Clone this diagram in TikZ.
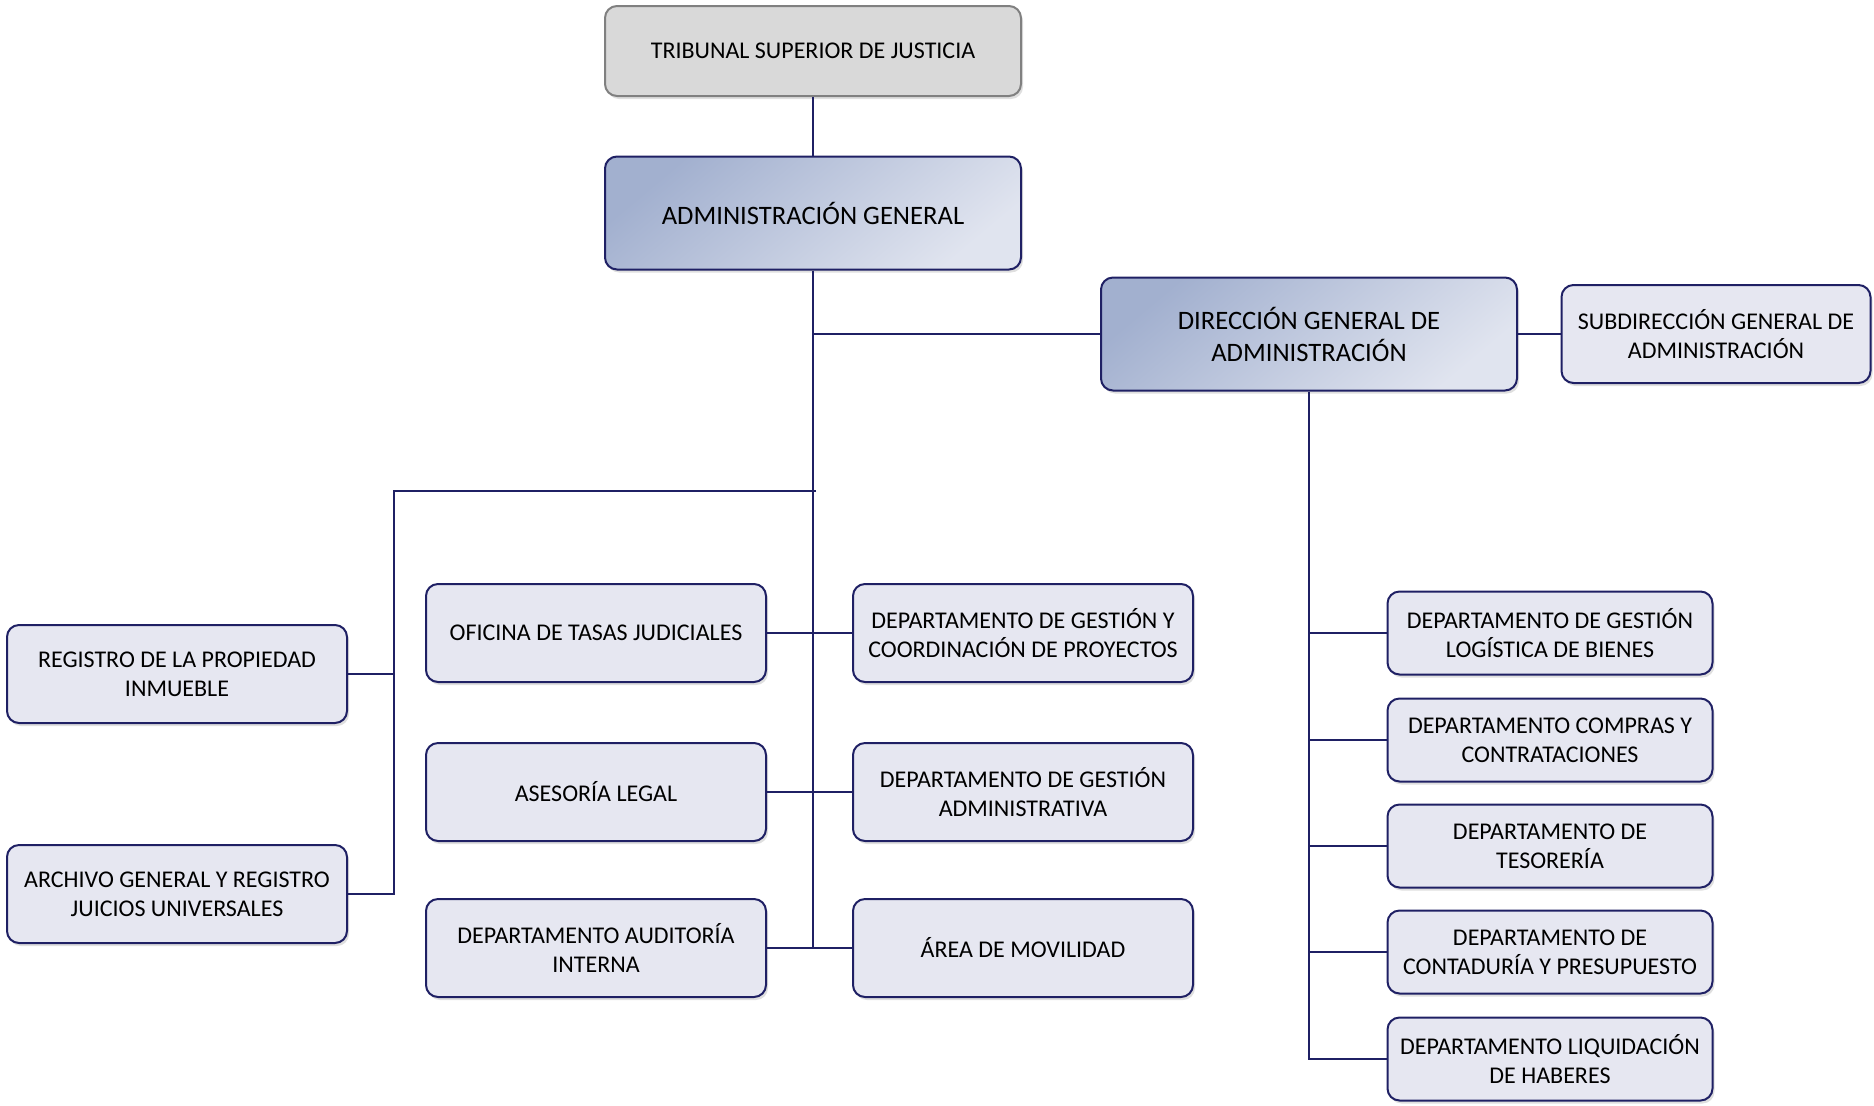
\documentclass[tikz,border=0pt]{standalone}
\usepackage{fontspec}
\setmainfont{Carlito}
\usetikzlibrary{shadows}

\definecolor{navy}{HTML}{1F2064}
\definecolor{unitfill}{HTML}{E6E7F1}
\definecolor{topfill}{HTML}{D9D9D9}
\definecolor{topline}{HTML}{808080}
\definecolor{darkblue}{HTML}{A2B0CF}
\definecolor{lightblue}{HTML}{E0E4EF}

\tikzset{
    unit/.style={rectangle, rounded corners=6pt, draw=navy, line width=1pt,
        fill=unitfill, align=center, inner sep=2pt,
        font=\fontsize{12}{14.5}\selectfont,
        drop shadow={opacity=0.25, shadow xshift=1pt, shadow yshift=-1.5pt}},
    wide/.style={unit, minimum width=170pt, minimum height=49pt},
    dept/.style={unit, minimum width=162.5pt, minimum height=41.5pt},
    head/.style={unit, minimum width=208pt, minimum height=56.5pt,
        font=\fontsize{13.3}{16}\selectfont,
        top color=darkblue, bottom color=lightblue, shading angle=40},
    link/.style={draw=navy, line width=1.4pt}
}

\begin{document}
\begin{tikzpicture}[x=0.5pt, y=-0.5pt]
    \useasboundingbox (0,0) rectangle (1874,1105);
    % Blocks
    \node [unit, draw=topline, fill=topfill, minimum width=208pt, minimum height=45pt] (TSJ) at (813,51) {TRIBUNAL SUPERIOR DE JUSTICIA};
    \node [head] (AG) at (813,213) {ADMINISTRACIÓN GENERAL};
    \node [head] (DGA) at (1309,334) {DIRECCIÓN GENERAL DE\\ADMINISTRACIÓN};
    \node [unit, minimum width=154.5pt, minimum height=49pt] (SGA) at (1716,334) {SUBDIRECCIÓN GENERAL DE\\ADMINISTRACIÓN};

    \node [wide] (RPI) at (177,674) {REGISTRO DE LA PROPIEDAD\\INMUEBLE};
    \node [wide] (AGR) at (177,894) {ARCHIVO GENERAL Y REGISTRO\\JUICIOS UNIVERSALES};

    \node [wide] (OTJ) at (596,633) {OFICINA DE TASAS JUDICIALES};
    \node [wide] (AL) at (596,792) {ASESORÍA LEGAL};
    \node [wide] (DAI) at (596,948) {DEPARTAMENTO AUDITORÍA\\INTERNA};

    \node [wide] (DGP) at (1023,633) {DEPARTAMENTO DE GESTIÓN Y\\COORDINACIÓN DE PROYECTOS};
    \node [wide] (DGAd) at (1023,792) {DEPARTAMENTO DE GESTIÓN\\ADMINISTRATIVA};
    \node [wide] (AM) at (1023,948) {ÁREA DE MOVILIDAD};

    \node [dept] (DLB) at (1550,633) {DEPARTAMENTO DE GESTIÓN\\LOGÍSTICA DE BIENES};
    \node [dept] (DCC) at (1550,740) {DEPARTAMENTO COMPRAS Y\\CONTRATACIONES};
    \node [dept] (DT) at (1550,846) {DEPARTAMENTO DE\\TESORERÍA};
    \node [dept] (DCP) at (1550,952) {DEPARTAMENTO DE\\CONTADURÍA Y PRESUPUESTO};
    \node [dept] (DLH) at (1550,1059) {DEPARTAMENTO LIQUIDACIÓN\\DE HABERES};

    \coordinate (trunk) at (813,948);
    \coordinate (fork) at (816,491);
    \coordinate (left) at (394,491);
    \coordinate (leftend) at (394,894);
    \coordinate (dtrunk) at (1309,1059);

    % Connections
    \draw [link] (TSJ) -- (AG);
    \draw [link] (AG) -- (trunk);
    \draw [link] (AG.south |- DGA) -- (DGA);
    \draw [link] (DGA) -- (SGA);
    \draw [link] (fork) -- (left) -- (leftend) -- (AGR);
    \draw [link] (RPI) -- (left |- RPI);
    \draw [link] (OTJ) -- (DGP);
    \draw [link] (AL) -- (DGAd);
    \draw [link] (DAI) -- (AM);
    \draw [link] (DGA) -- (dtrunk) -- (DLH);
    \foreach \d in {DLB,DCC,DT,DCP}
        \draw [link] (DGA.south |- \d) -- (\d);
\end{tikzpicture}
\end{document}
